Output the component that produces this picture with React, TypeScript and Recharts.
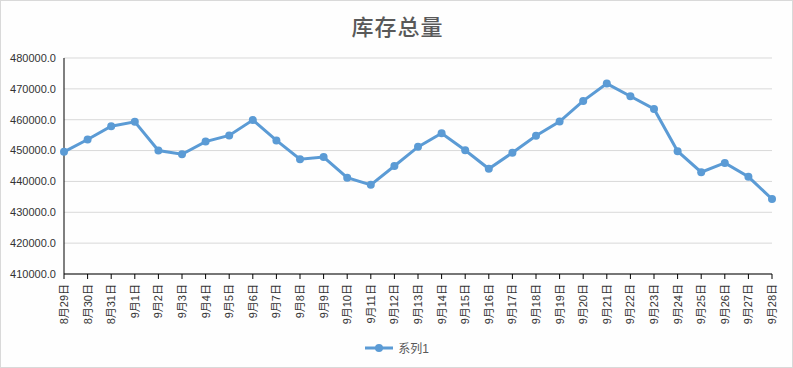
import { LineChart, Line, XAxis, YAxis, CartesianGrid, Legend } from "recharts";

const dates = [
  "8月29日", "8月30日", "8月31日", "9月1日", "9月2日", "9月3日", "9月4日", "9月5日",
  "9月6日", "9月7日", "9月8日", "9月9日", "9月10日", "9月11日", "9月12日", "9月13日",
  "9月14日", "9月15日", "9月16日", "9月17日", "9月18日", "9月19日", "9月20日", "9月21日",
  "9月22日", "9月23日", "9月24日", "9月25日", "9月26日", "9月27日", "9月28日",
];

const stock = [
  449600, 453600, 457900, 459300, 450000, 448800, 452900, 454900,
  459900, 453300, 447200, 447900, 441200, 438900, 445000, 451200,
  455600, 450100, 444100, 449300, 454800, 459400, 466100, 471700,
  467600, 463500, 449800, 443000, 446000, 441500, 434300,
];

const yTicks = [410000, 420000, 430000, 440000, 450000, 460000, 470000, 480000];

const seriesName = "系列1";
const title = "库存总量";

const lineColor = "#5B9BD5";
const font = "'Liberation Sans', 'Noto Sans CJK SC', sans-serif";

const data = dates.map((d, i) => ({ date: d, value: stock[i] }));

const DateTick = (props: any) => {
  const { x, y, payload } = props;
  return (
    <text
      x={x}
      y={y + 3}
      transform={`rotate(-90, ${x}, ${y + 3})`}
      textAnchor="end"
      dominantBaseline="central"
      fontSize={11}
      fill="#333"
      fontFamily={font}
    >
      {payload.value}
    </text>
  );
};

const LegendBox = () => (
  <div style={{ display: "flex", justifyContent: "center", alignItems: "center" }}>
    <svg width={30} height={12} style={{ marginRight: 4 }}>
      <line x1={1} y1={6} x2={29} y2={6} stroke={lineColor} strokeWidth={3} />
      <circle cx={15} cy={6} r={4} fill={lineColor} />
    </svg>
    <span style={{ fontSize: 12, color: "#595959", fontFamily: font }}>{seriesName}</span>
  </div>
);

export default function App() {
  return (
    <div
      style={{
        position: "absolute",
        left: 0,
        top: 0,
        width: 791,
        height: 366,
        border: "1px solid #d9d9d9",
        background: "#fefefe",
      }}
    >
      <div
        style={{
          position: "absolute",
          top: 9,
          left: 0,
          width: 793,
          textAlign: "center",
          fontSize: 22,
          fontWeight: 500,
          color: "#595959",
          fontFamily: "'Noto Sans CJK SC', serif",
          lineHeight: "30px",
          letterSpacing: 1,
        }}
      >
        {title}
      </div>
      <div style={{ position: "absolute", left: -1, top: -1 }}>
        <LineChart
          width={793}
          height={368}
          data={data}
          margin={{ top: 58, right: 21, left: 0, bottom: 34 }}
        >
          <CartesianGrid vertical={false} stroke="#d9d9d9" />
          <XAxis
            dataKey="date"
            interval={0}
            height={60}
            tick={<DateTick />}
            tickSize={5}
            stroke="#000"
            axisLine={{ stroke: "#000" }}
            tickLine={{ stroke: "#000" }}
          />
          <YAxis
            width={64}
            domain={[410000, 480000]}
            ticks={yTicks}
            tickFormatter={(v: number) => v.toFixed(1)}
            tickSize={0}
            tickMargin={8}
            tickLine={false}
            axisLine={{ stroke: "#000" }}
            tick={{ fontSize: 11, fill: "#333", fontFamily: font }}
          />
          <Legend
            layout="horizontal"
            align="center"
            verticalAlign="middle"
            wrapperStyle={{ top: 339, left: 0, width: 793 }}
            content={<LegendBox />}
          />
          <Line
            type="linear"
            dataKey="value"
            name={seriesName}
            stroke={lineColor}
            strokeWidth={3}
            dot={{ r: 4, fill: lineColor, stroke: lineColor, strokeWidth: 0 }}
            isAnimationActive={false}
          />
        </LineChart>
      </div>
    </div>
  );
}
